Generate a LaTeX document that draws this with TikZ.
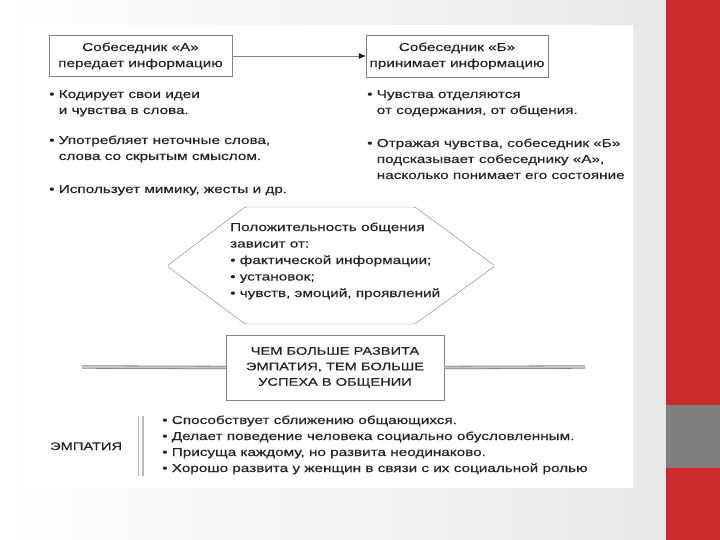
\documentclass[tikz,border=0pt]{standalone}
\usepackage{fontspec}
\setmainfont{Liberation Sans}[FakeStretch=1.33, FakeBold=0.35]
\usetikzlibrary{arrows.meta, positioning}
\definecolor{SlideRed}{RGB}{205, 42, 44}
\definecolor{EdgeRed}{RGB}{228, 30, 50}
\definecolor{SlideGray}{RGB}{125, 127, 124}
\definecolor{InkGray}{RGB}{35, 35, 35}
\definecolor{LineGray}{RGB}{130, 130, 130}
\newcommand{\bul}{\textbullet\ }
\newcommand{\bulgap}{\hphantom{\textbullet\ }}

\begin{document}
\begin{tikzpicture}[x=1pt, y=-1pt,
            every node/.style={font=\fontsize{11.5}{16}\selectfont, text=InkGray},
            header/.style={draw=LineGray, fill=white, minimum width=183pt, minimum height=41pt, align=center, inner sep=2pt},
            item/.style={anchor=base west, align=left, inner sep=0pt},
            twin/.style={draw=LineGray, double=gray!45, double distance=1.8pt, line width=0.8pt}
        ]
        \useasboundingbox (0,0) rectangle (720,540);

        % Slide
        \shade[left color=white, right color=black!9] (0,0) rectangle (666,540);
        \fill[white] (22,25) rectangle (633,488);
        \fill[SlideRed] (666,0) rectangle (720,540);
        \fill[SlideGray] (666,405) rectangle (720,468);
        \fill[EdgeRed] (666,0) rectangle (668,405);
        \fill[EdgeRed] (666,468) rectangle (720,470);
        \fill[EdgeRed] (666,470) rectangle (668,540);

        % The two speakers (item nodes sit on the baseline of their last line)
        \node[header] (sendA) at (140.5,56) {Собеседник «А»\\передает информацию};
        \node[header, minimum width=182pt, minimum height=42pt] (recvB) at (457,56) {Собеседник «Б»\\принимает информацию};
        \draw[LineGray, -{Latex[length=7pt, width=6pt, color=InkGray]}] (sendA) -- (recvB);

        \node[item] (codeA) at (49,114) {\bul Кодирует свои идеи\\\bulgap и чувства в слова.};
        \node[item] (wordsA) at (49,160) {\bul Употребляет неточные слова,\\\bulgap слова со скрытым смыслом.};
        \node[item] (mimicA) at (49,193) {\bul Использует мимику, жесты и др.};

        \node[item] (feelB) at (367,114) {\bul Чувства отделяются\\\bulgap от содержания, от общения.};
        \node[item] (hintB) at (367,179) {\bul Отражая чувства, собеседник «Б»\\\bulgap подсказывает собеседнику «А»,\\\bulgap насколько понимает его состояние};

        % Hexagon
        \draw[LineGray, fill=white, rounded corners=1.5pt] (167,266) -- (245,207) -- (415,207) -- (495,266) -- (415,324) -- (245,324) -- cycle;
        \node[item, font=\fontsize{11.5}{16.5}\selectfont] (factors) at (230,297) {Положительность общения\\зависит от:\\\bul фактической информации;\\\bul установок;\\\bul чувств, эмоций, проявлений};

        % Rule box with the double lines
        \node[draw=LineGray, fill=white, minimum width=218pt, minimum height=65pt, align=center, font=\fontsize{11}{15.5}\selectfont] (rule) at (335,367.5) {ЧЕМ БОЛЬШЕ РАЗВИТА\\ЭМПАТИЯ, ТЕМ БОЛЬШЕ\\УСПЕХА В ОБЩЕНИИ};
        \coordinate (farL) at (82,367);
        \coordinate (farR) at (585,367);
        \draw[twin] (farL) -- (rule.west);
        \draw[twin] (rule.east) -- (farR);

        % Empathy
        \node[anchor=base west, inner sep=0pt, font=\fontsize{11}{16}\selectfont] (empathy) at (50,450) {ЭМПАТИЯ};
        \coordinate (barT) at (140.5,416);
        \coordinate (barB) at (140.5,476);
        \draw[draw=gray!55, double=white, double distance=3.4pt, line width=1.3pt] (barT) -- (barB);
        \node[item] (traits) at (162,472) {\bul Способствует сближению общающихся.\\\bul Делает поведение человека социально обусловленным.\\\bul Присуща каждому, но развита неодинаково.\\\bul Хорошо развита у женщин в связи с их социальной ролью};

        \end{tikzpicture}
\end{document}
